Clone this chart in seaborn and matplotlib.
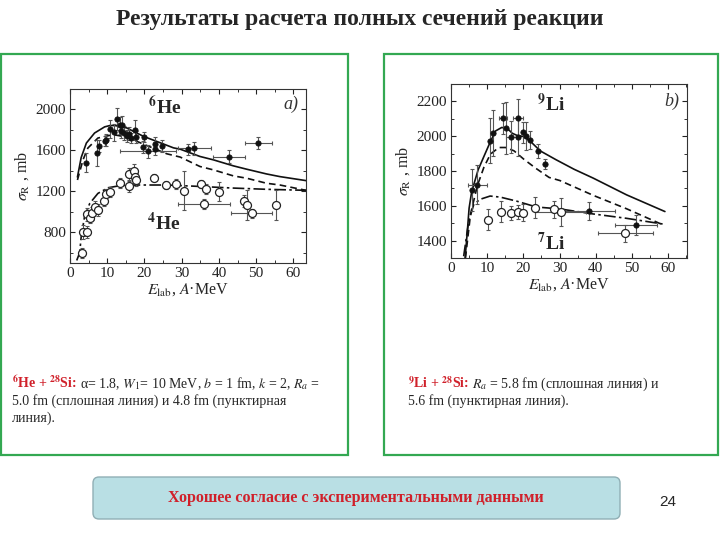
import matplotlib
matplotlib.use("Agg")
import matplotlib.pyplot as plt
from matplotlib.patches import Rectangle, FancyBboxPatch
from matplotlib.ticker import MultipleLocator
import seaborn as sns

# --- панель a): 6He + 28Si (закрашенные точки) и 4He + 28Si (открытые)
he6_x = [4.3, 7.2, 7.9, 9.3, 9.6, 10.8, 11.9, 12.7, 13.3, 13.8, 14.0, 14.6, 15.2, 15.8,
         16.3, 17.5, 17.8, 19.5, 19.9, 20.9, 22.8, 22.8, 24.8, 31.8, 33.4, 42.7, 50.6]
he6_y = [1480, 1575, 1640, 1690, 1705, 1810, 1775, 1905, 1845, 1785, 1850, 1770, 1740, 1765,
         1720, 1800, 1730, 1630, 1730, 1590, 1660, 1615, 1640, 1610, 1620, 1540, 1670]
he6_yerr = [90, 130, 60, 50, 60, 90, 80, 110, 80, 60, 90, 70, 60, 60,
            50, 100, 60, 60, 50, 60, 70, 60, 60, 50, 60, 60, 60]
he6_xerr = [0, 0, 0, 0, 0, 0, 0, 0, 0, 0, 0, 0, 0, 0,
            0, 0, 0, 0, 0, 7.5, 0, 0, 0, 0, 4.5, 4.2, 3.7]

he4_x = [3.3, 3.4, 4.7, 4.7, 5.3, 6.0, 6.8, 7.6, 9.1, 9.8, 10.8, 13.4, 15.9, 15.9, 17.1,
         17.4, 17.8, 22.6, 25.9, 28.6, 30.5, 35.1, 36.1, 36.6, 40.1, 46.8, 47.5, 48.8, 55.4]
he4_y = [600, 800, 805, 975, 940, 985, 1050, 1020, 1110, 1170, 1190, 1280, 1250, 1365, 1395,
         1340, 1315, 1335, 1265, 1270, 1207, 1272, 1075, 1220, 1197, 1108, 1066, 984, 1066]
he4_yerr = [50, 70, 60, 60, 50, 60, 60, 60, 50, 50, 50, 50, 60, 60, 70,
            60, 60, 30, 40, 50, 190, 40, 50, 50, 90, 60, 150, 40, 150]
he4_xerr = [0, 0, 0, 0, 0, 0, 0, 0, 0, 0, 0, 0, 0, 0, 0,
            0, 0, 0, 0, 0, 0, 0, 7.0, 0, 0, 0, 0, 5.6, 0]

# расчёт: Ra = 5.0 fm (сплошная), 4.8 fm (пунктир), 4He (штрих-пунктир)
he6_fit_x = [2.0, 3.0, 4.4, 6.6, 9.3, 10.7, 12.1, 15.2, 19.7, 27.8, 29.6, 34.9, 38.5, 43.9, 47.5, 52.8, 56.4, 63.4]
he6_fit_y = [1340, 1530, 1672, 1770, 1830, 1843, 1843, 1820, 1738, 1625, 1612, 1541, 1508, 1449, 1416, 1370, 1344, 1305]
he6_dash_x = [2.0, 3.5, 4.8, 7.5, 11.6, 15.2, 19.7, 26.0, 29.6, 34.9, 38.5, 43.9, 47.5, 52.8, 56.4, 63.4]
he6_dash_y = [1311, 1508, 1623, 1721, 1754, 1731, 1662, 1567, 1535, 1443, 1410, 1351, 1328, 1279, 1262, 1210]
he4_fit_x = [1.8, 2.6, 3.0, 3.9, 5.3, 7.5, 10.2, 13.8, 18.8, 26.0, 34.9, 43.9, 52.8, 63.4]
he4_fit_y = [525, 600, 754, 951, 1082, 1180, 1235, 1258, 1262, 1262, 1248, 1232, 1220, 1210]

# --- панель b): 9Li + 28Si (закрашенные) и 7Li + 28Si (открытые)
li9_x = [5.7, 7.3, 10.7, 11.7, 14.4, 15.1, 16.7, 18.5, 18.5, 20.0, 20.8, 21.8, 24.0, 26.1, 38.2, 51.2]
li9_y = [1690, 1722, 1974, 2018, 2102, 2046, 1995, 2102, 1995, 2023, 2002, 1979, 1916, 1841, 1571, 1490]
li9_yerr = [120, 110, 130, 130, 90, 150, 90, 110, 110, 60, 80, 50, 40, 30, 50, 60]
li9_xerr = [0, 2.6, 0, 0, 1.2, 0, 1.5, 1.5, 0, 0, 0, 0, 0, 0, 7.2, 5.8]

li7_x = [10.2, 13.7, 16.5, 18.4, 20.0, 23.2, 28.4, 30.3, 48.2]
li7_y = [1519, 1567, 1561, 1565, 1560, 1590, 1580, 1565, 1442]
li7_yerr = [60, 60, 40, 40, 50, 60, 50, 80, 50]
li7_xerr = [0, 0, 0, 0, 0, 0, 0, 7.0, 7.7]

li9_fit_x = [3.9, 4.5, 5.0, 5.7, 7.5, 9.1, 10.7, 12.3, 14.0, 15.5, 16.9, 18.3, 20.1, 22.0, 24.7, 29.0, 34.0, 39.3, 48.5, 59.1]
li9_fit_y = [1300, 1450, 1586, 1680, 1807, 1884, 1960, 2030, 2050, 2046, 2017, 2004, 1998, 1969, 1915, 1865, 1810, 1759, 1663, 1567]
li9_dash_x = [4.0, 5.4, 7.3, 9.1, 10.9, 13.2, 15.1, 17.4, 20.1, 23.4, 27.1, 30.1, 39.3, 48.5, 58.6]
li9_dash_y = [1300, 1553, 1717, 1822, 1897, 1935, 1935, 1916, 1868, 1816, 1763, 1745, 1660, 1583, 1490]
li7_fit_x = [3.5, 4.9, 6.3, 8.0, 10.8, 13.6, 18.1, 23.6, 30.1, 39.3, 48.5, 58.6]
li7_fit_y = [1310, 1512, 1608, 1637, 1656, 1650, 1627, 1593, 1582, 1553, 1528, 1495]

sns.set_style("ticks")
plt.rcParams["font.family"] = ["Liberation Serif", "DejaVu Serif"]
plt.rcParams["mathtext.fontset"] = "stix"
for k in ["xtick", "ytick"]:
    plt.rcParams[k + ".direction"] = "in"
    plt.rcParams[k + ".major.size"] = 3.5
    plt.rcParams[k + ".minor.size"] = 2
    plt.rcParams[k + ".major.width"] = 0.8
    plt.rcParams[k + ".minor.width"] = 0.7
    plt.rcParams[k + ".color"] = "#333333"
plt.rcParams["xtick.top"] = True
plt.rcParams["ytick.right"] = True

fig = plt.figure(figsize=(7.2, 5.4), dpi=100)
fig.patch.set_facecolor("white")

# фон слайда в пиксельных координатах
bg = fig.add_axes([0, 0, 1, 1])
bg.set_xlim(0, 720)
bg.set_ylim(540, 0)
bg.axis("off")

green = "#33a852"
bg.add_patch(Rectangle((1, 54), 347, 401, fill=False, ec=green, lw=1.6))
bg.add_patch(Rectangle((384, 54), 334, 401, fill=False, ec=green, lw=1.6))
bg.add_patch(FancyBboxPatch((93, 477), 527, 42, boxstyle="round,pad=0,rounding_size=6",
                            fc="#b9dfe4", ec="#90afb5", lw=1.0))

bg.text(360, 20, "Результаты расчета полных сечений реакции", ha="center", va="center",
        fontsize=17, fontweight="bold")
red = "#d0202a"
bg.text(356, 498, "Хорошее согласие с экспериментальными данными", ha="center", va="center",
        fontsize=11.5, fontweight="bold", color=red)
bg.text(668, 502, "24", ha="center", va="center", fontsize=11, family="Liberation Sans")

# подписи под графиками
cap_fs = 10
t1 = bg.text(12, 388, r"$^{\mathbf{6}}$He + $^{\mathbf{28}}$Si:", fontsize=cap_fs,
             fontweight="bold", color=red, va="baseline")
t2 = bg.text(384 + 24, 388, r"$^{\mathbf{9}}$Li + $^{\mathbf{28}}$Si:", fontsize=cap_fs,
             fontweight="bold", color=red, va="baseline")
fig.canvas.draw()
inv = bg.transData.inverted()
x1 = inv.transform(t1.get_window_extent().get_points())[1][0]
x2 = inv.transform(t2.get_window_extent().get_points())[1][0]
bg.text(x1 + 3, 388, r"α= 1.8, $W_1$= 10 MeV, $b$ = 1 fm, $k$ = 2, $R_a$ =", fontsize=cap_fs,
        va="baseline")
bg.text(12, 405, "5.0 fm (сплошная линия) и 4.8 fm (пунктирная", fontsize=cap_fs, va="baseline")
bg.text(12, 422, "линия).", fontsize=cap_fs, va="baseline")
bg.text(x2 + 3, 388, r"$R_a$ = 5.8 fm (сплошная линия) и", fontsize=cap_fs, va="baseline")
bg.text(408, 405, "5.6 fm (пунктирная линия).", fontsize=cap_fs, va="baseline")

ax1 = fig.add_axes([70 / 720, 1 - 263 / 540, 236 / 720, 174 / 540])
ax2 = fig.add_axes([451 / 720, 1 - 258 / 540, 236 / 720, 174 / 540])

dashed = (0, (4, 2.5))
dashdot = (0, (7, 2, 1.5, 2))


def draw_panel(ax, fx, fy, fxe, fye, ox, oy, oxe, oye, curves):
    for cx, cy, ls in curves:
        sns.lineplot(x=cx, y=cy, ax=ax, color="#111111", lw=1.2, linestyle=ls)
    ax.errorbar(fx, fy, yerr=fye, xerr=fxe, fmt="none", ecolor="#555555",
                elinewidth=0.8, capsize=1.6, capthick=0.8, zorder=3)
    ax.errorbar(ox, oy, yerr=oye, xerr=oxe, fmt="none", ecolor="#555555",
                elinewidth=0.8, capsize=1.6, capthick=0.8, zorder=3)
    sns.scatterplot(x=ox, y=oy, ax=ax, marker="o", s=33, color="#222222",
                    facecolor="white", edgecolor="#222222", linewidth=0.9, zorder=4)
    sns.scatterplot(x=fx, y=fy, ax=ax, marker="o", s=15, color="#111111",
                    edgecolor="#111111", linewidth=0.5, zorder=5)
    ax.xaxis.set_major_locator(MultipleLocator(10))
    ax.xaxis.set_minor_locator(MultipleLocator(5))
    ax.tick_params(labelsize=11, colors="#222222", pad=3)
    ax.set_xlabel(r"$E_{\rm lab}$, $A$·MeV", fontsize=11.5, labelpad=1)
    ax.set_ylabel(r"$\sigma_{\rm R}$ , mb", fontsize=11.5, labelpad=3)
    for s in ax.spines.values():
        s.set_linewidth(0.8)
        s.set_color("#333333")


draw_panel(ax1, he6_x, he6_y, he6_xerr, he6_yerr, he4_x, he4_y, he4_xerr, he4_yerr,
           [(he6_fit_x, he6_fit_y, "-"), (he6_dash_x, he6_dash_y, dashed),
            (he4_fit_x, he4_fit_y, dashdot)])
ax1.set_xlim(0, 63.4)
ax1.set_ylim(500, 2200)
ax1.yaxis.set_major_locator(MultipleLocator(400))
ax1.yaxis.set_minor_locator(MultipleLocator(200))
ax1.text(21, 2030, r"$^{\mathbf{6}}$He", fontsize=14, fontweight="bold", va="center")
ax1.text(20.7, 890, r"$^{\mathbf{4}}$He", fontsize=14, fontweight="bold", va="center")
ax1.text(57.3, 2050, "a)", fontsize=13, style="italic", va="center", color="#333333")

draw_panel(ax2, li9_x, li9_y, li9_xerr, li9_yerr, li7_x, li7_y, li7_xerr, li7_yerr,
           [(li9_fit_x, li9_fit_y, "-"), (li9_dash_x, li9_dash_y, dashed),
            (li7_fit_x, li7_fit_y, dashdot)])
ax2.set_xlim(0, 65.2)
ax2.set_ylim(1300, 2300)
ax2.yaxis.set_major_locator(MultipleLocator(200))
ax2.yaxis.set_minor_locator(MultipleLocator(100))
ax2.text(23.7, 2183, r"$^{\mathbf{9}}$Li", fontsize=14, fontweight="bold", va="center")
ax2.text(23.7, 1388, r"$^{\mathbf{7}}$Li", fontsize=14, fontweight="bold", va="center")
ax2.text(58.8, 2200, "b)", fontsize=13, style="italic", va="center", color="#333333")

fig.savefig("out.png", dpi=100, facecolor="white")
